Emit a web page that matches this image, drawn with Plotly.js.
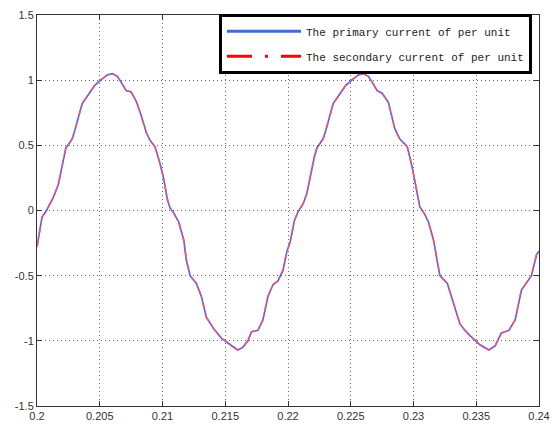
<!DOCTYPE html>
<html>
<head>
<meta charset="utf-8">
<script src="https://cdn.plot.ly/plotly-3.0.1.min.js"></script>
<style>html,body{margin:0;padding:0;background:#fff;}#chart{width:552px;height:430px;}</style>
</head>
<body>
<div id="chart"></div>
<script>
// time (s)
var timeS = [
0.2000,0.2002,0.2004,0.2007,0.2010,0.2013,0.2017,0.2019,0.2021,0.2023,0.2026,0.2028,0.2030,0.2033,0.2036,0.2041,0.2046,0.2052,0.2056,0.2060,
0.2064,0.2068,0.2071,0.2075,0.2079,0.2083,0.2087,0.2090,0.2094,0.2098,0.2101,0.2104,0.2106,0.2109,0.2113,0.2117,0.2119,0.2122,0.2127,0.2131,
0.2135,0.2141,0.2147,0.2154,0.2160,0.2164,0.2168,0.2171,0.2176,0.2180,0.2184,0.2188,0.2192,0.2196,0.2199,0.2202,0.2205,0.2208,0.2212,0.2215,
0.2217,0.2219,0.2221,0.2223,0.2226,0.2228,0.2230,0.2233,0.2236,0.2241,0.2246,0.2252,0.2256,0.2260,0.2264,0.2268,0.2271,0.2275,0.2280,0.2285,
0.2289,0.2295,0.2299,0.2303,0.2305,0.2309,0.2312,0.2316,0.2319,0.2321,0.2327,0.2332,0.2337,0.2341,0.2345,0.2353,0.2360,0.2365,0.2370,0.2376,
0.2381,0.2386,0.2390,0.2394,0.2398,0.2400
];
// primary current (per unit)
var primaryPU = [
-0.28,-0.15,-0.05,-0.01,0.05,0.10,0.20,0.30,0.41,0.48,0.52,0.55,0.61,0.72,0.82,0.89,0.96,1.01,1.04,1.05,
1.03,0.97,0.92,0.91,0.84,0.73,0.60,0.54,0.49,0.36,0.24,0.08,0.02,-0.02,-0.09,-0.23,-0.38,-0.50,-0.56,-0.66,
-0.82,-0.91,-0.98,-1.03,-1.07,-1.05,-1.00,-0.93,-0.92,-0.84,-0.66,-0.57,-0.54,-0.46,-0.32,-0.23,-0.08,-0.01,0.05,0.13,
0.23,0.30,0.41,0.48,0.52,0.55,0.61,0.72,0.82,0.89,0.96,1.01,1.04,1.05,1.03,0.97,0.92,0.90,0.83,0.63,
0.55,0.49,0.33,0.13,0.03,-0.03,-0.09,-0.23,-0.38,-0.50,-0.56,-0.72,-0.87,-0.92,-0.96,-1.03,-1.07,-1.04,-0.94,-0.92,
-0.84,-0.61,-0.55,-0.50,-0.34,-0.31
];
// secondary current (per unit)
var secondaryPU = [
-0.28,-0.15,-0.05,-0.01,0.05,0.10,0.20,0.30,0.41,0.48,0.52,0.55,0.61,0.72,0.82,0.89,0.96,1.01,1.04,1.05,
1.03,0.97,0.92,0.91,0.84,0.73,0.60,0.54,0.49,0.36,0.24,0.08,0.02,-0.02,-0.09,-0.23,-0.38,-0.50,-0.56,-0.66,
-0.82,-0.91,-0.98,-1.03,-1.07,-1.05,-1.00,-0.93,-0.92,-0.84,-0.66,-0.57,-0.54,-0.46,-0.32,-0.23,-0.08,-0.01,0.05,0.13,
0.23,0.30,0.41,0.48,0.52,0.55,0.61,0.72,0.82,0.89,0.96,1.01,1.04,1.05,1.03,0.97,0.92,0.90,0.83,0.63,
0.55,0.49,0.33,0.13,0.03,-0.03,-0.09,-0.23,-0.38,-0.50,-0.56,-0.72,-0.87,-0.92,-0.96,-1.03,-1.07,-1.04,-0.94,-0.92,
-0.84,-0.61,-0.55,-0.50,-0.34,-0.31
];
var seriesNames = ["The primary current of per unit", "The secondary current of per unit"];
var xTickVals = [0.2,0.205,0.21,0.215,0.22,0.225,0.23,0.235,0.24];
var xTickText = ["0.2","0.205","0.21","0.215","0.22","0.225","0.23","0.235","0.24"];
var yTickVals = [-1.5,-1,-0.5,0,0.5,1,1.5];
var yTickText = ["-1.5","-1","-0.5","0","0.5","1","1.5"];

var blueLegend = "rgb(60,110,210)";
var blueLine = "rgb(90,90,250)";
var redLegend = "rgb(255,0,0)";
var redLine = "rgb(255,85,85)";

var traces = [
  {x: timeS, y: primaryPU, type: "scatter", mode: "lines", showlegend: false,
   line: {color: blueLine, width: 1.6}},
  {x: timeS, y: secondaryPU, type: "scatter", mode: "lines", showlegend: false, opacity: 0.9,
   line: {color: redLine, width: 1.6, dash: "6px,3px,2px,3px"}},
  // legend entries only
  {x: [null], y: [null], type: "scatter", mode: "lines", name: seriesNames[0], legendgroup: "a",
   line: {color: blueLegend, width: 3}},
  {x: [null], y: [null], type: "scatter", mode: "lines", name: seriesNames[1], legendgroup: "b",
   line: {color: redLegend, width: 3, dash: "25px,13px,3px,13px"}}
];

var axisCommon = {
  showline: true, linecolor: "#333", linewidth: 1, mirror: "allticks",
  ticks: "inside", ticklen: 5, tickcolor: "#333", tickwidth: 1,
  showgrid: true, gridcolor: "#666", griddash: "1px,3px", gridwidth: 1,
  zeroline: false,
  tickfont: {family: "Liberation Sans, Arial, sans-serif", size: 11, color: "#333"}
};

var layout = {
  width: 552, height: 430,
  margin: {l: 37, r: 13, t: 15, b: 24},
  paper_bgcolor: "#fff", plot_bgcolor: "#fff",
  xaxis: Object.assign({}, axisCommon, {range: [0.2, 0.24], tickmode: "array", tickvals: xTickVals, ticktext: xTickText}),
  yaxis: Object.assign({}, axisCommon, {range: [-1.5, 1.5], tickmode: "array", tickvals: yTickVals, ticktext: yTickText}),
  legend: {
    x: 0.986, y: 1.003, xanchor: "right", yanchor: "top",
    bgcolor: "#fff", bordercolor: "#000", borderwidth: 3,
    font: {family: "Liberation Mono, Courier New, monospace", size: 11, color: "#222"},
    itemwidth: 74, traceorder: "grouped", tracegroupgap: 6
  }
};

Plotly.newPlot("chart", traces, layout, {displayModeBar: false, staticPlot: true});
</script>
</body>
</html>
